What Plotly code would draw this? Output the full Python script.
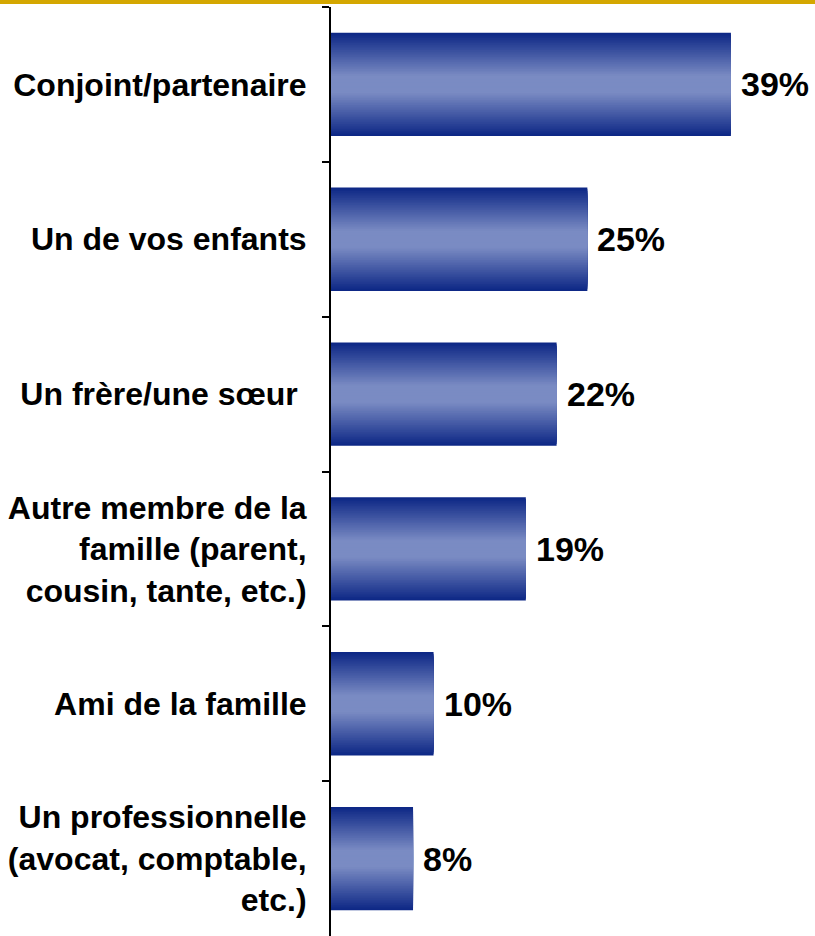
import plotly.graph_objects as go

categories = [
    "Conjoint/partenaire",
    "Un de vos enfants",
    "Un frère/une sœur ",
    "Autre membre de la<br>famille (parent,<br>cousin, tante, etc.)",
    "Ami de la famille",
    "Un professionnelle<br>(avocat, comptable,<br>etc.)",
]
values = [39, 25, 22, 19, 10, 8]
value_labels = ["39%", "25%", "22%", "19%", "10%", "8%"]

W, H = 815, 936
ML, MT = 331, 7
FONT = "Arial, 'Liberation Sans', sans-serif"

edge = (14, 40, 134)
center = (122, 139, 195)
N = 30
full_width = 0.667

fig = go.Figure()
for i in range(N):
    t = i / (N - 1)
    s = min(1.0, t / 0.85)
    col = tuple(round(edge[k] + (center[k] - edge[k]) * s) for k in range(3))
    w = full_width * (1 - i / N)
    fig.add_trace(go.Bar(
        x=values, y=categories, orientation="h",
        width=w, marker=dict(color="rgb(%d,%d,%d)" % col, line=dict(width=0)),
        showlegend=False, hoverinfo="skip",
    ))

for v, c, lab in zip(values, categories, value_labels):
    fig.add_annotation(x=v, y=c, text=lab, showarrow=False, xanchor="left",
                       xshift=8, font=dict(family=FONT, size=34, color="black", weight="bold"))

# gold band along the top
fig.add_shape(type="rect", xref="paper", yref="paper",
              x0=-ML / (W - ML), x1=1.0, y0=1 + (MT - 4) / (H - MT), y1=1 + MT / (H - MT),
              fillcolor="#D4A700", line=dict(width=0), layer="above")

fig.update_layout(
    width=W, height=H,
    margin=dict(l=ML, r=0, t=MT, b=0),
    barmode="overlay",
    paper_bgcolor="white", plot_bgcolor="white",
    xaxis=dict(range=[0, 47.2], visible=False, showgrid=False, zeroline=False),
    yaxis=dict(
        autorange="reversed", showgrid=False, zeroline=False,
        showline=True, linecolor="black", linewidth=2,
        ticks="outside", tickson="boundaries", ticklen=7, tickwidth=2, tickcolor="black",
        ticklabelstandoff=16,
        tickfont=dict(family=FONT, size=32, color="black", weight="bold"),
    ),
)

fig.write_html("out.html", config={"displayModeBar": False},
               post_script="document.body.style.margin='0';")
